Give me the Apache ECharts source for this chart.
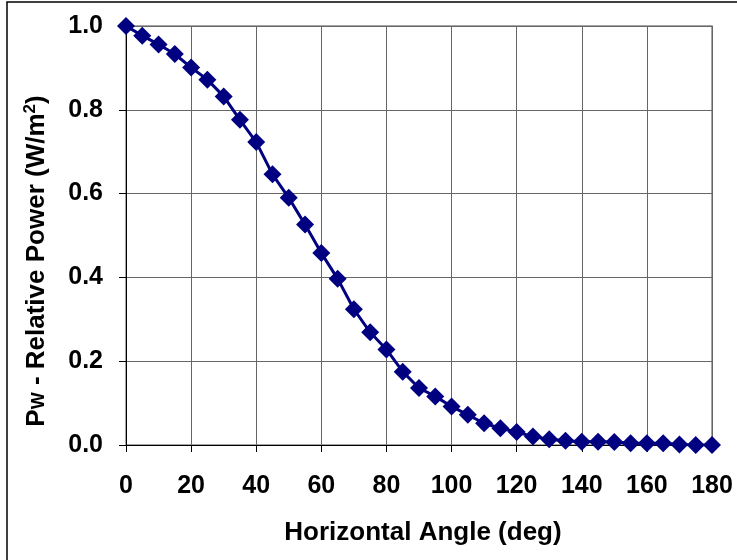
<!DOCTYPE html>
<html>
<head>
<meta charset="utf-8">
<script src="https://cdn.jsdelivr.net/npm/echarts@6/dist/echarts.min.js"></script>
<style>
  html, body { margin: 0; padding: 0; background: #fff; }
  #chart { width: 737px; height: 560px; }
</style>
</head>
<body>
<div id="chart"></div>
<script>
// horizontal angle (deg)
var angles = [0, 5, 10, 15, 20, 25, 30, 35, 40, 45, 50, 55, 60, 65, 70, 75, 80, 85, 90,
  95, 100, 105, 110, 115, 120, 125, 130, 135, 140, 145, 150, 155, 160, 165, 170, 175, 180];
// relative power
var power = [1.0, 0.977, 0.956, 0.933, 0.901, 0.872, 0.832, 0.776, 0.723, 0.646, 0.590, 0.526,
  0.458, 0.397, 0.324, 0.269, 0.228, 0.175, 0.136, 0.116, 0.092, 0.072, 0.052, 0.040,
  0.031, 0.020, 0.014, 0.010, 0.008, 0.008, 0.007, 0.004, 0.004, 0.004, 0.001, 0.0, 0.0];
var xTicks = [0, 20, 40, 60, 80, 100, 120, 140, 160, 180];
var yTicks = [0.0, 0.2, 0.4, 0.6, 0.8, 1.0];

var points = angles.map(function (a, i) { return [a, power[i]]; });
var font = '"Liberation Sans", Arial, sans-serif';

var chart = echarts.init(document.getElementById('chart'));
chart.setOption({
  animation: false,
  backgroundColor: '#fff',
  grid: { left: 126, right: 25, top: 26, bottom: 115, containLabel: false },
  xAxis: {
    type: 'value',
    min: xTicks[0],
    max: xTicks[xTicks.length - 1],
    interval: 20,
    name: 'Horizontal Angle (deg)',
    nameLocation: 'middle',
    nameGap: 75,
    nameTextStyle: { fontFamily: font, fontWeight: 'bold', fontSize: 26, color: '#000', padding: [0, 0, 0, 8] },
    axisLine: { show: true, lineStyle: { color: '#000', width: 1 } },
    axisTick: { show: true, inside: false, length: 7, lineStyle: { color: '#000' } },
    axisLabel: { fontFamily: font, fontWeight: 'bold', fontSize: 25, color: '#000', margin: 29 },
    splitLine: { show: true, lineStyle: { color: '#666', width: 1 } }
  },
  yAxis: {
    type: 'value',
    min: yTicks[0],
    max: yTicks[yTicks.length - 1],
    interval: 0.2,
    axisLine: { show: true, lineStyle: { color: '#000', width: 1 } },
    axisTick: { show: true, inside: false, length: 7, lineStyle: { color: '#000' } },
    axisLabel: {
      fontFamily: font, fontWeight: 'bold', fontSize: 25, color: '#000', margin: 23,
      formatter: function (v) { return v.toFixed(1); }
    },
    splitLine: { show: true, lineStyle: { color: '#666', width: 1 } }
  },
  graphic: [
    {
      type: 'rect',
      shape: { x: 7, y: 2, width: 800, height: 640 },
      style: { fill: 'none', stroke: '#000', lineWidth: 1.5 },
      silent: true
    },
    {
      type: 'rect',
      shape: { x: 126, y: 26, width: 586, height: 419 },
      style: { fill: 'none', stroke: '#888', lineWidth: 1.5 },
      silent: true,
      z: 0
    },
    {
      type: 'text',
      x: 37,
      y: 261,
      rotation: Math.PI / 2,
      style: {
        text: '{m|P}{s|W}{m| - Relative Power (W/m}{u|2}{m|)}',
        align: 'center',
        verticalAlign: 'middle',
        fill: '#000',
        rich: {
          m: { fontFamily: font, fontWeight: 'bold', fontSize: 26, lineHeight: 30, verticalAlign: 'middle' },
          s: { fontFamily: font, fontWeight: 'bold', fontSize: 18, lineHeight: 30, verticalAlign: 'bottom', padding: [0, 0, 4, 0] },
          u: { fontFamily: font, fontWeight: 'bold', fontSize: 17, lineHeight: 30, verticalAlign: 'top' }
        }
      }
    }
  ],
  series: [{
    type: 'line',
    data: points,
    symbol: 'diamond',
    symbolSize: 18,
    showAllSymbol: true,
    lineStyle: { color: '#000080', width: 3 },
    itemStyle: { color: '#000080' },
    z: 3
  }]
});
</script>
</body>
</html>
